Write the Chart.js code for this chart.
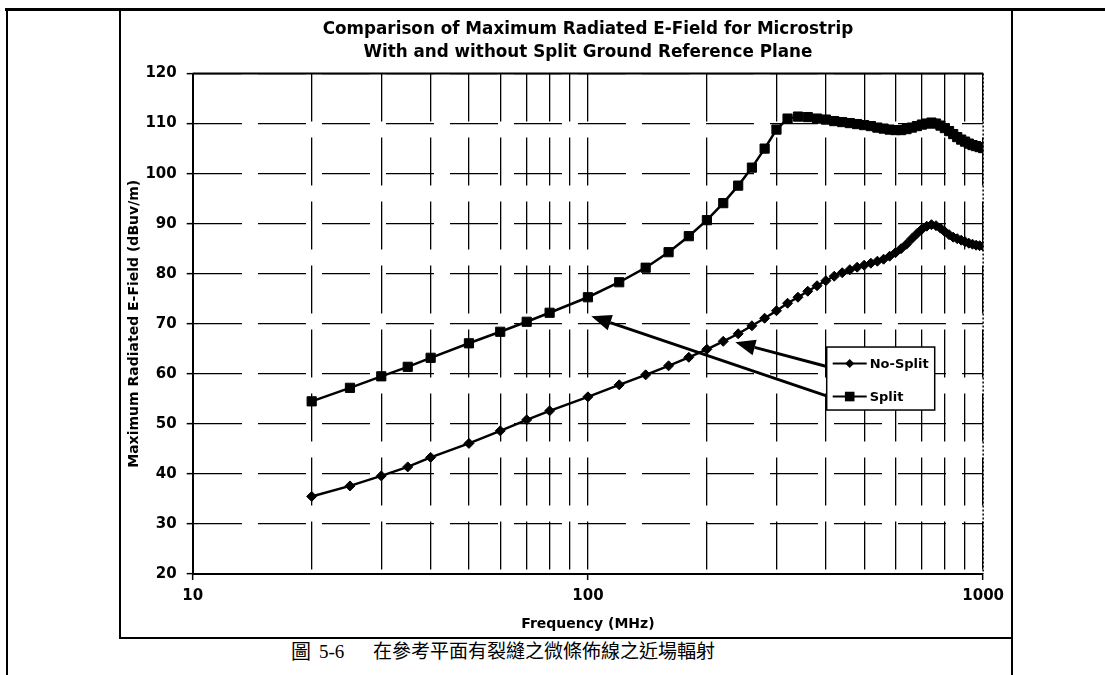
<!DOCTYPE html>
<html>
<head>
<meta charset="utf-8">
<title>Microstrip radiated E-field</title>
<script src="https://cdn.jsdelivr.net/npm/chart.js@4/dist/chart.umd.min.js"></script>
<style>
  html, body { margin: 0; padding: 0; background: #fff; }
  #page { position: relative; width: 1105px; height: 675px; overflow: hidden; }
  .rule { position: absolute; background: #000; }
  #chartBox { position: absolute; left: 121px; top: 11px; width: 890px; height: 626px; }
  .cap {
    position: absolute; top: 640px; line-height: 24px; white-space: nowrap; color: #000;
    font-family: "Liberation Serif", "Noto Sans CJK TC", serif; font-size: 19px;
  }
</style>
</head>
<body>
<div id="page">
  <div class="rule" style="left:5px;top:8px;width:1100px;height:3px"></div>
  <div class="rule" style="left:6px;top:8px;width:2px;height:667px"></div>
  <div class="rule" style="left:119px;top:8px;width:2px;height:631px"></div>
  <div class="rule" style="left:119px;top:637px;width:894px;height:2px"></div>
  <div class="rule" style="left:1011px;top:8px;width:2px;height:667px"></div>
  <div id="chartBox"><canvas id="fieldChart"></canvas></div>
  <span class="cap" style="left:291px;font-size:20px">圖</span>
  <span class="cap" style="left:319px">5-6</span>
  <span class="cap" style="left:373px">在參考平面有裂縫之微條佈線之近場輻射</span>
</div>

<script>
// Frequency points (MHz), shared by both curves
const freqMHz = [20, 25, 30, 35, 40, 50, 60, 70, 80,
  100, 120, 140, 160, 180, 200, 220, 240, 260, 280,
  300, 320, 340, 360, 380, 400, 420, 440, 460, 480,
  500, 520, 540, 560, 580, 600, 620, 640, 660, 680,
  700, 720, 740, 760, 780, 800, 820, 840, 860, 880,
  900, 920, 940, 960, 980, 1000];

// Maximum radiated E-field, dBuV/m
const noSplit = [35.5, 37.6, 39.6, 41.4, 43.3, 46.1, 48.6, 50.8, 52.6,
  55.4, 57.8, 59.8, 61.6, 63.3, 64.9, 66.5, 68.0, 69.6, 71.1,
  72.6, 74.1, 75.3, 76.5, 77.6, 78.6, 79.5, 80.2, 80.8, 81.3,
  81.7, 82.1, 82.5, 82.9, 83.5, 84.2, 85.0, 85.9, 87.0, 88.0,
  88.9, 89.5, 89.8, 89.6, 89.1, 88.4, 87.8, 87.3, 87.0, 86.7,
  86.4, 86.1, 85.9, 85.7, 85.6, 85.5];

const split = [54.5, 57.2, 59.5, 61.4, 63.2, 66.1, 68.4, 70.4, 72.2,
  75.3, 78.3, 81.2, 84.3, 87.5, 90.7, 94.1, 97.6, 101.2, 105.0,
  108.8, 111.0, 111.4, 111.3, 111.0, 110.8, 110.5, 110.3, 110.1, 109.9,
  109.7, 109.5, 109.2, 109.0, 108.8, 108.7, 108.7, 108.9, 109.2, 109.5,
  109.8, 110.0, 110.2, 110.0, 109.6, 109.1, 108.5, 107.9, 107.3, 106.8,
  106.4, 106.0, 105.7, 105.5, 105.3, 105.1];

// Log axis grid positions and the ones that get a label
const xGridValues = [10, 20, 30, 40, 50, 60, 70, 80, 90,
  100, 200, 300, 400, 500, 600, 700, 800, 900, 1000];
const xLabelValues = [10, 100, 1000];

const titleLines = ["Comparison of Maximum Radiated E-Field for Microstrip",
  "With and without Split Ground Reference Plane"];

// Callout arrows from the legend to each curve: [tailFreq, tailDb, tipFreq, tipDb]
const noSplitArrow = [400, 61.5, 236, 66.3];
const splitArrow = [405, 55.5, 102, 71.5];

Chart.defaults.font.family = '"DejaVu Sans", sans-serif';
Chart.defaults.color = "#000";

const toPoints = vals => freqMHz.map((f, i) => ({ x: f, y: vals[i] }));

function drawMarker(ctx, style, x, y, r){
    ctx.beginPath();
    if(style === "rect"){
        ctx.rect(x - r, y - r, 2 * r, 2 * r);
    } else {
        ctx.moveTo(x - r, y); ctx.lineTo(x, y - r);
        ctx.lineTo(x + r, y); ctx.lineTo(x, y + r);
        ctx.closePath();
    }
    ctx.fill();
}

function drawArrow(ctx, x1, y1, x2, y2){
    const ang = Math.atan2(y2 - y1, x2 - x1);
    const len = 20, half = 8;
    const bx = x2 - Math.cos(ang) * len, by = y2 - Math.sin(ang) * len;
    ctx.beginPath();
    ctx.moveTo(x1, y1); ctx.lineTo(bx, by);
    ctx.stroke();
    ctx.beginPath();
    ctx.moveTo(x2, y2);
    ctx.lineTo(bx + Math.sin(ang) * half, by - Math.cos(ang) * half);
    ctx.lineTo(bx - Math.sin(ang) * half, by + Math.cos(ang) * half);
    ctx.closePath();
    ctx.fill();
}

// Plot frame, callout arrows and the boxed legend
const annotations = {
    id: "annotations",
    afterDatasetsDraw(chart){
        const { ctx, chartArea: a, scales: { x, y } } = chart;
        ctx.save();
        ctx.strokeStyle = "#000";
        ctx.fillStyle = "#000";

        ctx.lineWidth = 2;
        ctx.beginPath();
        ctx.moveTo(a.left, a.top); ctx.lineTo(a.right, a.top);
        ctx.stroke();
        ctx.lineWidth = 1.5;
        ctx.setLineDash([2, 2]);
        ctx.beginPath();
        ctx.moveTo(a.right, a.top); ctx.lineTo(a.right, a.bottom);
        ctx.stroke();
        ctx.setLineDash([]);

        ctx.lineWidth = 3;
        [noSplitArrow, splitArrow].forEach(p => {
            drawArrow(ctx, x.getPixelForValue(p[0]), y.getPixelForValue(p[1]),
                x.getPixelForValue(p[2]), y.getPixelForValue(p[3]));
        });

        const bx = a.left + 634, by = a.top + 273.5, bw = 108, bh = 63;
        ctx.fillStyle = "#fff";
        ctx.fillRect(bx, by, bw, bh);
        ctx.lineWidth = 1.5;
        ctx.strokeRect(bx, by, bw, bh);

        ctx.fillStyle = "#000";
        ctx.font = 'bold 13px "DejaVu Sans", sans-serif';
        ctx.textBaseline = "middle";
        const rows = [["No-Split", "rectRot", 4.5, 16.5], ["Split", "rect", 4.8, 49.5]];
        rows.forEach(([label, style, r, dy]) => {
            const ly = by + dy;
            ctx.lineWidth = 2;
            ctx.beginPath();
            ctx.moveTo(bx + 6, ly); ctx.lineTo(bx + 40, ly);
            ctx.stroke();
            drawMarker(ctx, style, bx + 23, ly, r);
            ctx.fillText(label, bx + 43, ly + 1);
        });
        ctx.restore();
    }
};

const gridDash = [48, 16];

new Chart(document.getElementById("fieldChart"), {
    type: "line",
    data: {
        datasets: [
            { label: "No-Split", data: toPoints(noSplit), borderColor: "#000", backgroundColor: "#000",
              borderWidth: 2.5, pointStyle: "rectRot", pointRadius: 5, pointBorderWidth: 1,
              pointBackgroundColor: "#000", pointBorderColor: "#000" },
            { label: "Split", data: toPoints(split), borderColor: "#000", backgroundColor: "#000",
              borderWidth: 2.5, pointStyle: "rect", pointRadius: 6.5, pointBorderWidth: 1,
              pointBackgroundColor: "#000", pointBorderColor: "#000" }
        ]
    },
    options: {
        responsive: true,
        maintainAspectRatio: false,
        animation: false,
        layout: { padding: { left: 0, right: 25, top: 0, bottom: 0 } },
        plugins: {
            legend: { display: false },
            tooltip: { enabled: false },
            title: {
                display: true, text: titleLines, fullSize: false,
                font: { size: 16.8, weight: "bold", lineHeight: 1.37 },
                padding: { top: 7.5, bottom: 9 }
            }
        },
        scales: {
            x: {
                type: "logarithmic", min: 10, max: 1000,
                afterBuildTicks: s => { s.ticks = xGridValues.map(v => ({ value: v, major: xLabelValues.includes(v) })); },
                afterFit: s => { s.height = 63; },
                ticks: {
                    autoSkip: false, maxRotation: 0, padding: 7,
                    font: { size: 15, weight: "bold" },
                    callback: v => xLabelValues.includes(v) ? String(v) : ""
                },
                grid: {
                    color: "#000", lineWidth: 1.3,
                    tickLength: 6, tickWidth: 1.5, tickBorderDash: [],
                    tickColor: c => (c.tick && xLabelValues.includes(c.tick.value)) ? "#000" : "rgba(0,0,0,0)"
                },
                border: { display: true, color: "#000", width: 2, dash: gridDash },
                title: {
                    display: true, text: "Frequency (MHz)",
                    font: { size: 14, weight: "bold", lineHeight: 1.2 },
                    padding: { top: 0, bottom: 4.6 }
                }
            },
            y: {
                min: 20, max: 120,
                afterFit: s => { s.width = 71.7; },
                ticks: { stepSize: 10, padding: 10, font: { size: 15, weight: "bold" } },
                grid: {
                    color: "#000", lineWidth: 1.3,
                    tickLength: 6, tickWidth: 1.5, tickBorderDash: [], tickColor: "#000"
                },
                border: { display: true, color: "#000", width: 2, dash: gridDash },
                title: {
                    display: true, text: "Maximum Radiated E-Field (dBuv/m)",
                    font: { size: 14, weight: "bold", lineHeight: 1.2 },
                    padding: { top: 4.6, bottom: 0 }
                }
            }
        }
    },
    plugins: [annotations]
});
</script>
</body>
</html>
